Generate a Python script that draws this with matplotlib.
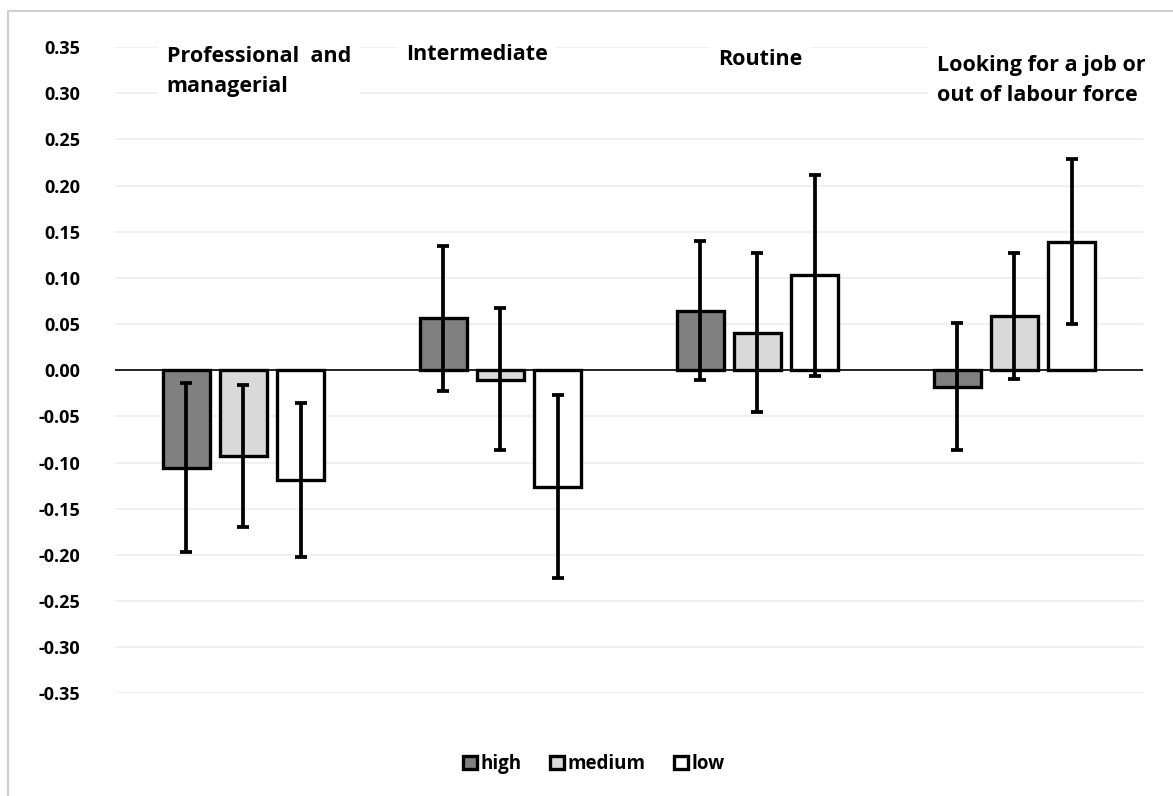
import numpy as np
import matplotlib
matplotlib.use("Agg")
from matplotlib import pyplot as plt
from matplotlib.patches import Rectangle

plt.rcParams['font.family'] = ['Open Sans', 'DejaVu Sans']
plt.rcParams['font.weight'] = 'bold'

# data
categories = ['Professional  and\nmanagerial', 'Intermediate', 'Routine',
              'Looking for a job or\nout of labour force']
levels = ['high', 'medium', 'low']
values = {
    'high':   [-0.106, 0.057, 0.064, -0.018],
    'medium': [-0.093, -0.010, 0.040, 0.059],
    'low':    [-0.119, -0.126, 0.103, 0.139],
}
ci_low = {
    'high':   [-0.197, -0.022, -0.010, -0.086],
    'medium': [-0.170, -0.086, -0.045, -0.009],
    'low':    [-0.202, -0.225, -0.006, 0.050],
}
ci_high = {
    'high':   [-0.014, 0.135, 0.140, 0.051],
    'medium': [-0.016, 0.067, 0.127, 0.127],
    'low':    [-0.035, -0.027, 0.212, 0.229],
}
yticks = np.round(np.arange(-0.35, 0.351, 0.05), 2)

colors = {'high': '#808080', 'medium': '#d9d9d9', 'low': '#ffffff'}

fig = plt.figure(figsize=(11.73, 7.96), dpi=100)
ax = fig.add_axes([0.098, 0.1288, 0.8764, 0.812])

# light frame around the chart
fig.patches.append(Rectangle((8 / 1173, -0.1), 1.2, 1 - 11 / 796 + 0.1,
                             transform=fig.transFigure, fill=False,
                             edgecolor='#d0d0d0', linewidth=1.5))

x = np.arange(len(categories))
width = 0.183
step = 0.222
for i, lev in enumerate(levels):
    pos = x + (i - 1) * step
    v = np.array(values[lev])
    lo = v - np.array(ci_low[lev])
    hi = np.array(ci_high[lev]) - v
    ax.bar(pos, v, width, color=colors[lev], edgecolor='black',
           linewidth=2.4, label=lev, zorder=2)
    ax.errorbar(pos, v, yerr=[lo, hi], fmt='none', ecolor='black',
                elinewidth=2.7, capsize=4.3, capthick=2.7, zorder=3)

ax.axhline(0, color='black', linewidth=1.2, zorder=2.5)

ax.set_xlim(-0.5, 3.5)
ax.set_ylim(-0.35, 0.35)
ax.set_yticks(yticks)
ax.set_yticklabels(['%.2f' % t if t != 0 else '0.00' for t in yticks],
                   fontsize=13, fontweight='bold')
ax.tick_params(axis='y', length=0, pad=25)
ax.set_xticks([])
ax.grid(axis='y', color='#eeeeee', linewidth=1.2, zorder=0)
ax.set_axisbelow(True)
for s in ax.spines.values():
    s.set_visible(False)

# category labels inside the plot
label_x = [-0.298, 0.632, 1.846, 2.698]
label_y = [0.3236, 0.342, 0.337, 0.314]
for cx, cy, name in zip(label_x, label_y, categories):
    ax.text(cx, cy, name, ha='left', va='center', fontsize=15.5,
            fontweight='bold', linespacing=1.58, zorder=4,
            bbox=dict(facecolor='white', edgecolor='none', pad=6))

fig.legend(loc='center', bbox_to_anchor=(0.506, 0.04), ncol=3, frameon=False,
           prop={'size': 13.5, 'weight': 'bold'}, handlelength=0.75,
           handleheight=0.75, handletextpad=0.2, columnspacing=1.5)

fig.savefig('out.png', dpi=100)
